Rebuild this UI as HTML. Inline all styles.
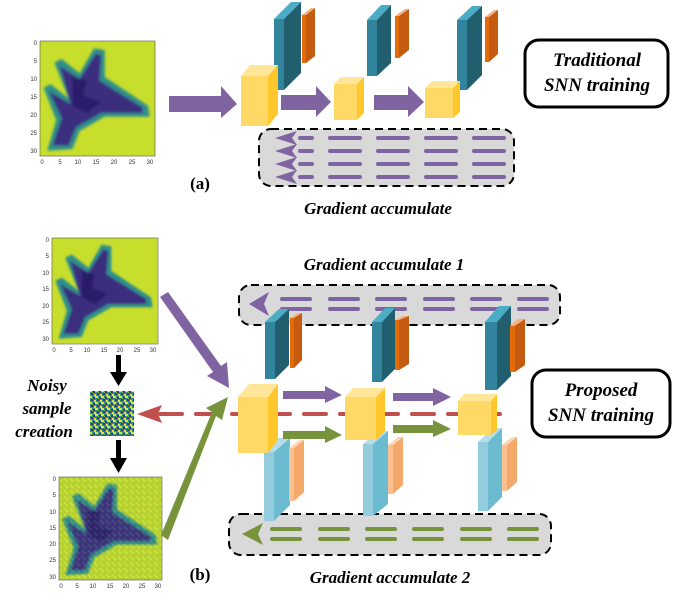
<!DOCTYPE html>
<html><head><meta charset="utf-8"><style>
html,body{margin:0;padding:0;background:#fff;}
svg{display:block;}
.t{font-family:"Liberation Serif",serif;font-weight:bold;font-style:italic;fill:#000;}
.tk{font-family:"Liberation Sans",sans-serif;font-size:6px;fill:#333;}
</style></head><body>
<svg width="678" height="600" viewBox="0 0 678 600" xmlns="http://www.w3.org/2000/svg">
<defs>
<filter id="bl" x="-5%" y="-5%" width="110%" height="110%"><feGaussianBlur stdDeviation="0.35"/></filter>
<g id="plane">
<rect x="0" y="0" width="32" height="32" fill="#c8de2c"/>
<g filter="url(#bl)">
<polygon points="15,2 18,2.5 18,10 30,18 30.5,21 18,21 11,25 9,30 2,30.5 4.5,22 1,13 3,12 8,16 4,6 6,5 11,9" fill="#2f8f8c"/>
<polygon points="15.5,3.5 17,4 16.5,11 28.5,18.5 28.5,20 17,20 10,24 8,29 3.5,29 6,21.5 2.5,14 8.5,17.5 5.5,7 11,10.5" fill="#3b2f7f"/>
<polygon points="9,10 13,11 12,15 17,17 13,20 9,18" fill="#2a1f6a"/>
</g>
</g>
<pattern id="noise" width="6" height="6" patternUnits="userSpaceOnUse">
<rect width="6" height="6" fill="#2f8f8c"/>
<rect x="0" y="0" width="2" height="2" fill="#e6e22a"/><rect x="3" y="1" width="2" height="2" fill="#3b2f7f"/>
<rect x="1" y="3" width="2" height="2" fill="#3b2f7f"/><rect x="4" y="4" width="2" height="2" fill="#e6e22a"/>
<rect x="2" y="2" width="1" height="1" fill="#7bc957"/><rect x="5" y="0" width="1" height="2" fill="#e6e22a"/>
</pattern>
</defs>

<!-- ===== (a) ===== -->
<g transform="translate(40,41) scale(3.6)"><use href="#plane"/></g>
<rect x="40" y="41" width="115" height="115" fill="none" stroke="#555" stroke-width="0.6"/>
<g class="tk" text-anchor="end">
<text x="37" y="45">0</text><text x="37" y="63">5</text><text x="37" y="81">10</text><text x="37" y="99">15</text><text x="37" y="117">20</text><text x="37" y="135">25</text><text x="37" y="153">30</text></g>
<g class="tk" text-anchor="middle">
<text x="42" y="164">0</text><text x="60" y="164">5</text><text x="78" y="164">10</text><text x="96" y="164">15</text><text x="114" y="164">20</text><text x="132" y="164">25</text><text x="150" y="164">30</text></g>

<rect x="259" y="129" width="255" height="57" rx="12" fill="#d9d9d9" stroke="#000" stroke-width="2" stroke-dasharray="8,5"/>
<g fill="#8064a2">
<polygon points="275,138 297,131 292,138 297,145"/>
<polygon points="275,151 297,144 292,151 297,158"/>
<polygon points="275,164 297,157 292,164 297,171"/>
<polygon points="275,177 297,170 292,177 297,184"/>
</g>
<g stroke="#8064a2" stroke-width="4" stroke-linecap="round">
<path d="M300 138h12M330 138h30M378 138h30M426 138h30M474 138h30"/>
<path d="M300 151h12M330 151h30M378 151h30M426 151h30M474 151h30"/>
<path d="M300 164h12M330 164h30M378 164h30M426 164h30M474 164h30"/>
<path d="M300 177h12M330 177h30M378 177h30M426 177h30M474 177h30"/>
</g>

<polygon points="169,96 221,96 221,86 237,104 221,118 221,112 169,112" fill="#8064a2"/>
<polygon points="281,95 316,95 316,86 331,102 316,117 316,110 281,110" fill="#8064a2"/>
<polygon points="374,95 408,95 408,86 424,102 408,117 408,110 374,110" fill="#8064a2"/>

<g>
<polygon points="274,19 291,2 301,2 284,19" fill="#4bacc6"/>
<polygon points="284,19 301,2 301,73 284,90" fill="#215f6e"/>
<rect x="274" y="19" width="10" height="71" fill="#31849b"/>
<polygon points="302,15 311,8 315,8 306,15" fill="#f4b183"/>
<polygon points="306,15 315,8 315,56 306,63" fill="#c55a11"/>
<rect x="302" y="15" width="4" height="48" fill="#e36c09"/>
</g>
<g>
<polygon points="367,20 381,5 391,5 377,20" fill="#4bacc6"/>
<polygon points="377,20 391,5 391,63 377,76" fill="#215f6e"/>
<rect x="367" y="20" width="10" height="56" fill="#31849b"/>
<polygon points="395,16 405,9 409,9 399,16" fill="#f4b183"/>
<polygon points="399,16 409,9 409,50 399,58" fill="#c55a11"/>
<rect x="395" y="16" width="4" height="42" fill="#e36c09"/>
</g>
<g>
<polygon points="457,20 472,6 482,6 467,20" fill="#4bacc6"/>
<polygon points="467,20 482,6 482,75 467,90" fill="#215f6e"/>
<rect x="457" y="20" width="10" height="70" fill="#31849b"/>
<polygon points="485,17 494,10 498,10 489,17" fill="#f4b183"/>
<polygon points="489,17 498,10 498,54 489,62" fill="#c55a11"/>
<rect x="485" y="17" width="4" height="45" fill="#e36c09"/>
</g>

<g><polygon points="241,76 250,65 278,65 268,76" fill="#ffe699"/><polygon points="268,76 278,65 278,114 268,126" fill="#ffc72c"/><rect x="241" y="76" width="27" height="50" fill="#ffd966"/></g>
<g><polygon points="334,84 341,77 364,77 357,84" fill="#ffe699"/><polygon points="357,84 364,77 364,113 357,120" fill="#ffc72c"/><rect x="334" y="84" width="23" height="36" fill="#ffd966"/></g>
<g><polygon points="425,88 432,81 460,81 453,88" fill="#ffe699"/><polygon points="453,88 460,81 460,112 453,118" fill="#ffc72c"/><rect x="425" y="88" width="28" height="30" fill="#ffd966"/></g>

<rect x="525" y="40" width="143" height="67" rx="14" fill="#fff" stroke="#000" stroke-width="3"/>
<text class="t" x="597" y="66" font-size="19" text-anchor="middle">Traditional</text>
<text class="t" x="597" y="91" font-size="19" text-anchor="middle">SNN training</text>

<text x="200" y="189" font-family="Liberation Serif,serif" font-weight="bold" font-size="17" text-anchor="middle">(a)</text>
<text class="t" x="378" y="214" font-size="17" text-anchor="middle">Gradient accumulate</text>

<!-- ===== (b) ===== -->
<g transform="translate(52,238) scale(3.3)"><use href="#plane"/></g>
<rect x="52" y="238" width="106" height="106" fill="none" stroke="#555" stroke-width="0.6"/>
<g class="tk" text-anchor="end">
<text x="49" y="242">0</text><text x="49" y="258">5</text><text x="49" y="275">10</text><text x="49" y="291">15</text><text x="49" y="308">20</text><text x="49" y="324">25</text><text x="49" y="341">30</text></g>
<g class="tk" text-anchor="middle">
<text x="54" y="352">0</text><text x="71" y="352">5</text><text x="87" y="352">10</text><text x="104" y="352">15</text><text x="120" y="352">20</text><text x="137" y="352">25</text><text x="153" y="352">30</text></g>

<g transform="translate(59,477) scale(3.22)"><use href="#plane"/></g>
<rect x="59" y="477" width="103" height="103" fill="url(#noise)" opacity="0.12"/>
<rect x="59" y="477" width="103" height="103" fill="none" stroke="#555" stroke-width="0.6"/>
<g class="tk" text-anchor="end">
<text x="56" y="481">0</text><text x="56" y="497">5</text><text x="56" y="514">10</text><text x="56" y="530">15</text><text x="56" y="546">20</text><text x="56" y="562">25</text><text x="56" y="579">30</text></g>
<g class="tk" text-anchor="middle">
<text x="61" y="588">0</text><text x="77" y="588">5</text><text x="93" y="588">10</text><text x="110" y="588">15</text><text x="126" y="588">20</text><text x="142" y="588">25</text><text x="158" y="588">30</text></g>

<rect x="90" y="391" width="44" height="45" fill="url(#noise)"/>

<rect x="116" y="355" width="5" height="18" fill="#000"/><polygon points="110,372 127,372 118.5,386" fill="#000"/>
<rect x="116" y="440" width="5" height="19" fill="#000"/><polygon points="110,458 127,458 118.5,473" fill="#000"/>

<text class="t" x="47" y="391" font-size="17" text-anchor="middle">Noisy</text>
<text class="t" x="47" y="414" font-size="17" text-anchor="middle">sample</text>
<text class="t" x="44" y="437" font-size="17" text-anchor="middle">creation</text>

<rect x="239" y="285" width="321" height="40" rx="12" fill="#d9d9d9" stroke="#000" stroke-width="2" stroke-dasharray="8,5"/>
<polygon points="249,304 269,292 264,304 269,316" fill="#8064a2"/>
<g stroke="#8064a2" stroke-width="4" stroke-linecap="round">
<path d="M282 299h28M330 299h28M377 299h28M425 299h28M472 299h28M519 299h28"/>
<path d="M282 309h28M330 309h28M377 309h28M425 309h28M472 309h28M519 309h28"/>
</g>
<text class="t" x="384" y="270" font-size="17" text-anchor="middle">Gradient accumulate 1</text>

<rect x="229" y="514" width="322" height="41" rx="12" fill="#d9d9d9" stroke="#000" stroke-width="2" stroke-dasharray="8,5"/>
<polygon points="242,534 263,523 258,534 263,545" fill="#77933c"/>
<g stroke="#77933c" stroke-width="4" stroke-linecap="round">
<path d="M272 529h28M320 529h28M367 529h28M414 529h28M462 529h28M509 529h28"/>
<path d="M272 539h28M320 539h28M367 539h28M414 539h28M462 539h28M509 539h28"/>
</g>
<text class="t" x="390" y="583" font-size="17" text-anchor="middle">Gradient accumulate 2</text>

<g>
<polygon points="265,322 279,309 289,309 275,322" fill="#4bacc6"/>
<polygon points="275,322 289,309 289,365 275,379" fill="#215f6e"/>
<rect x="265" y="322" width="10" height="57" fill="#31849b"/>
<polygon points="290,318 298,313 302,313 294,318" fill="#f4b183"/>
<polygon points="294,318 302,313 302,360 294,368" fill="#c55a11"/>
<rect x="290" y="318" width="4" height="50" fill="#e36c09"/>
</g>
<g>
<polygon points="372,322 385,308 395,308 382,322" fill="#4bacc6"/>
<polygon points="382,322 395,308 395,369 382,382" fill="#215f6e"/>
<rect x="372" y="322" width="10" height="60" fill="#31849b"/>
<polygon points="395,320 403,316 409,316 399,320" fill="#f4b183"/>
<polygon points="399,320 409,316 409,364 399,370" fill="#c55a11"/>
<rect x="395" y="320" width="4" height="50" fill="#e36c09"/>
</g>
<g>
<polygon points="485,322 499,306 511,306 497,322" fill="#4bacc6"/>
<polygon points="497,322 511,306 511,376 497,390" fill="#215f6e"/>
<rect x="485" y="322" width="12" height="68" fill="#31849b"/>
<polygon points="510,326 518,319 525,319 515,326" fill="#f4b183"/>
<polygon points="515,326 525,319 525,365 515,372" fill="#c55a11"/>
<rect x="510" y="326" width="5" height="46" fill="#e36c09"/>
</g>

<g>
<polygon points="264,452 278,438 290,438 274,452" fill="#b7dee8"/>
<polygon points="274,452 290,438 290,505 274,521" fill="#6bbcd1"/>
<rect x="264" y="452" width="10" height="69" fill="#93cddd"/>
<polygon points="289,448 300,440 304,440 294,448" fill="#fbd5b5"/>
<polygon points="294,448 304,440 304,492 294,501" fill="#f4a86a"/>
<rect x="289" y="448" width="5" height="53" fill="#fac090"/>
</g>
<g>
<polygon points="363,444 378,431 388,431 373,444" fill="#b7dee8"/>
<polygon points="373,444 388,431 388,504 373,516" fill="#6bbcd1"/>
<rect x="363" y="444" width="10" height="72" fill="#93cddd"/>
<polygon points="388,445 398,437 403,437 393,445" fill="#fbd5b5"/>
<polygon points="393,445 403,437 403,485 393,494" fill="#f4a86a"/>
<rect x="388" y="445" width="5" height="49" fill="#fac090"/>
</g>
<g>
<polygon points="478,442 493,428 502,428 488,442" fill="#b7dee8"/>
<polygon points="488,442 502,428 502,497 488,511" fill="#6bbcd1"/>
<rect x="478" y="442" width="10" height="69" fill="#93cddd"/>
<polygon points="502,445 512,437 517,437 507,445" fill="#fbd5b5"/>
<polygon points="507,445 517,437 517,482 507,491" fill="#f4a86a"/>
<rect x="502" y="445" width="5" height="46" fill="#fac090"/>
</g>

<line x1="160" y1="414" x2="500" y2="414" stroke="#c0504d" stroke-width="4" stroke-dasharray="22,14" stroke-linecap="round"/>
<polygon points="137,414 162,405 158,414 162,423" fill="#c0504d"/>

<polygon points="160,297 168,292 221,366 227,362 229,388 207,376 213,372" fill="#8064a2"/>
<polygon points="161,535 168,540 216,416 222,420 228,397 206,408 212,412" fill="#77933c"/>

<polygon points="283,391 325,391 325,386 342,395 325,403 325,399 283,399" fill="#8064a2"/>
<polygon points="393,393 433,393 433,388 451,397 433,406 433,401 393,401" fill="#8064a2"/>
<polygon points="283,431 325,431 325,426 342,435 325,443 325,439 283,439" fill="#77933c"/>
<polygon points="393,425 433,425 433,420 451,429 433,437 433,433 393,433" fill="#77933c"/>

<g><polygon points="238,397 249,384 278,384 268,397" fill="#ffe699"/><polygon points="268,397 278,384 278,440 268,453" fill="#ffc72c"/><rect x="238" y="397" width="30" height="56" fill="#ffd966"/></g>
<g><polygon points="345,397 353,388 385,388 376,397" fill="#ffe699"/><polygon points="376,397 385,388 385,431 376,440" fill="#ffc72c"/><rect x="345" y="397" width="31" height="43" fill="#ffd966"/></g>
<g><polygon points="458,401 464,394 497,394 491,401" fill="#ffe699"/><polygon points="491,401 497,394 497,430 491,435" fill="#ffc72c"/><rect x="458" y="401" width="33" height="34" fill="#ffd966"/></g>

<rect x="532" y="370" width="138" height="67" rx="14" fill="#fff" stroke="#000" stroke-width="3"/>
<text class="t" x="601" y="396" font-size="19" text-anchor="middle">Proposed</text>
<text class="t" x="601" y="421" font-size="19" text-anchor="middle">SNN training</text>

<text x="200" y="580" font-family="Liberation Serif,serif" font-weight="bold" font-size="17" text-anchor="middle">(b)</text>
</svg>
</body></html>
